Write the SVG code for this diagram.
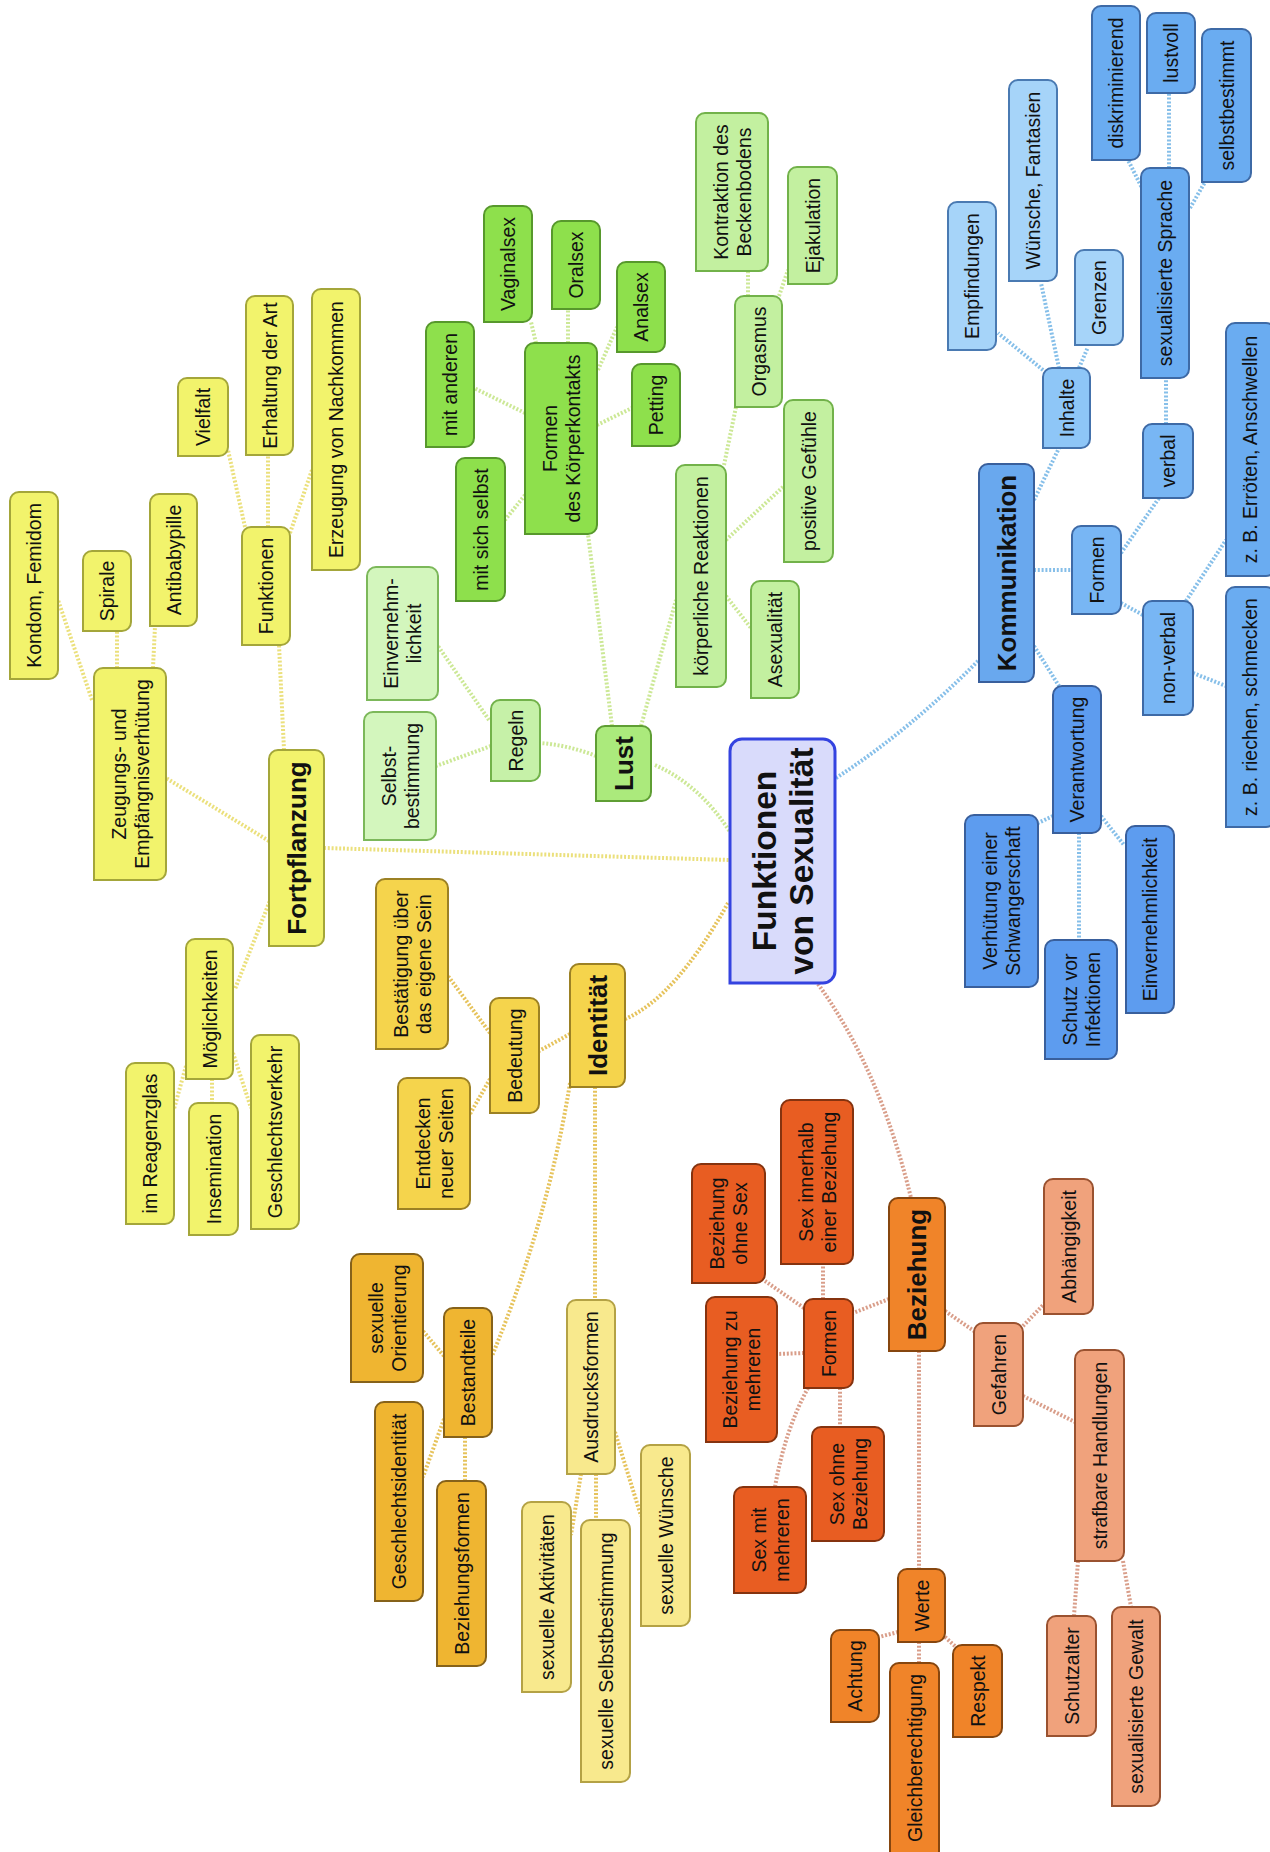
<svg xmlns="http://www.w3.org/2000/svg" width="1270" height="1852" viewBox="0 0 1270 1852">
<style>
.c{fill:none;stroke-width:4;stroke-dasharray:2 1.8}
.cy{stroke:#ebe07c}.cg{stroke:#cce896}.cgo{stroke:#e6c35c}.co{stroke:#d99e8a}.cb{stroke:#86bfe9}
.n{stroke-width:2}
.y{fill:#f2f36c;stroke:#a4a63a}
.g1{fill:#8ee04c;stroke:#57982c}
.g2{fill:#c3f0a0;stroke:#72b24a}
.g3{fill:#d3f6bd;stroke:#7cb85a}
.gl{fill:#abea7c;stroke:#5f9e34}
.gr{fill:#c6f1a8;stroke:#72b24a}
.go{fill:#f5d44c;stroke:#9c8124}
.dg{fill:#efb531;stroke:#86621a}
.py{fill:#f8e98d;stroke:#b4a245}
.rd{fill:#e85d22;stroke:#85330f}
.or{fill:#f08429;stroke:#86460f}
.sa{fill:#f0a27c;stroke:#9a5230}
.b1{fill:#69a8ee;stroke:#395f9c}
.b2{fill:#5d9cef;stroke:#395f9c}
.b3{fill:#78b6f4;stroke:#3e6aa6}
.b4{fill:#8ec6f7;stroke:#4472ac}
.b5{fill:#a6d4f9;stroke:#4a7ab2}
.b6{fill:#6aacf1;stroke:#3e6aa6}
.ctr{fill:#d9dbfb;stroke:#3443e0;stroke-width:3}
text{font-family:"Liberation Sans",Arial,sans-serif;font-size:19.5px;fill:#111;text-anchor:middle}
.tb{font-weight:bold;font-size:26px}
.tc{font-weight:bold;font-size:33.5px}
</style>
<g id="connectors">
<path class="c cg" d="M655,765Q700,785 730,832"/>
<path class="c cy" d="M324,848L730,860"/>
<path class="c cgo" d="M625,1019Q675,998 728,903"/>
<path class="c co" d="M818,984Q880,1070 911,1198"/>
<path class="c cb" d="M836,778Q910,730 979,660"/>
<path class="c cg" d="M596,756Q568,745 540,743"/>
<path class="c cg" d="M612,726L588,534"/>
<path class="c cg" d="M641,726L676,600"/>
<path class="c cg" d="M491,746L436,766"/>
<path class="c cg" d="M489,720L438,646"/>
<path class="c cg" d="M525,495L505,520"/>
<path class="c cg" d="M525,413L474,388"/>
<path class="c cg" d="M536,343L531,322"/>
<path class="c cg" d="M568,343L568,309"/>
<path class="c cg" d="M598,370L617,327"/>
<path class="c cg" d="M597,425L632,408"/>
<path class="c cg" d="M724,465L736,407"/>
<path class="c cg" d="M726,540L784,486"/>
<path class="c cg" d="M726,596L751,628"/>
<path class="c cg" d="M748,296L748,271"/>
<path class="c cg" d="M779,296L788,270"/>
<path class="c cy" d="M284,750L279,645"/>
<path class="c cy" d="M269,841L166,778"/>
<path class="c cy" d="M271,898L235,989"/>
<path class="c cy" d="M245,527L228,450"/>
<path class="c cy" d="M268,527L268,455"/>
<path class="c cy" d="M290,533L312,470"/>
<path class="c cy" d="M92,700L58,600"/>
<path class="c cy" d="M117,668L117,631"/>
<path class="c cy" d="M153,668L155,626"/>
<path class="c cy" d="M186,1066L174,1109"/>
<path class="c cy" d="M212,1079L212,1103"/>
<path class="c cy" d="M233,1053L251,1108"/>
<path class="c cgo" d="M570,1034L539,1051"/>
<path class="c cgo" d="M570,1083Q548,1220 492,1356"/>
<path class="c cgo" d="M595,1087L595,1300"/>
<path class="c cgo" d="M490,1033L448,976"/>
<path class="c cgo" d="M490,1079L470,1114"/>
<path class="c cgo" d="M444,1356L423,1331"/>
<path class="c cgo" d="M444,1419L423,1477"/>
<path class="c cgo" d="M465,1437L465,1481"/>
<path class="c cgo" d="M581,1474L571,1535"/>
<path class="c cgo" d="M596,1474L596,1520"/>
<path class="c cgo" d="M615,1432L641,1516"/>
<path class="c co" d="M889,1299L853,1313"/>
<path class="c co" d="M945,1311L974,1331"/>
<path class="c co" d="M919,1351L919,1569"/>
<path class="c co" d="M804,1308L765,1281"/>
<path class="c co" d="M823,1299L823,1264"/>
<path class="c co" d="M804,1353L777,1354"/>
<path class="c co" d="M808,1388Q785,1430 775,1487"/>
<path class="c co" d="M840,1388L840,1427"/>
<path class="c co" d="M898,1632L879,1637"/>
<path class="c co" d="M919,1642L919,1663"/>
<path class="c co" d="M945,1637L956,1647"/>
<path class="c co" d="M1023,1326L1044,1304"/>
<path class="c co" d="M1023,1396L1075,1422"/>
<path class="c co" d="M1078,1561L1074,1616"/>
<path class="c co" d="M1123,1561L1131,1607"/>
<path class="c cb" d="M1034,500L1059,448"/>
<path class="c cb" d="M1034,570L1072,570"/>
<path class="c cb" d="M1034,646L1059,686"/>
<path class="c cb" d="M1043,370L998,333"/>
<path class="c cb" d="M1059,368L1041,283"/>
<path class="c cb" d="M1079,368L1088,347"/>
<path class="c cb" d="M1121,553L1159,498"/>
<path class="c cb" d="M1121,603L1143,615"/>
<path class="c cb" d="M1166,424L1166,378"/>
<path class="c cb" d="M1143,190L1128,160"/>
<path class="c cb" d="M1169,168L1169,93"/>
<path class="c cb" d="M1190,208L1205,182"/>
<path class="c cb" d="M1186,601L1226,540"/>
<path class="c cb" d="M1193,673L1226,686"/>
<path class="c cb" d="M1053,816L1038,823"/>
<path class="c cb" d="M1079,833L1079,940"/>
<path class="c cb" d="M1101,816L1124,845"/>
</g>
<g id="center"><path class="ctr" d="M730,983V751a12,12 0 0 1 12,-12H823a12,12 0 0 1 12,12V971a12,12 0 0 1 -12,12Z"/><text class="tc" transform="translate(782.5,861) rotate(-90)"><tspan x="0" y="-7">Funktionen</tspan><tspan x="0" y="30">von Sexualität</tspan></text></g>
<g id="vielfalt"><path class="n y" d="M178,456V387a9,9 0 0 1 9,-9H219a9,9 0 0 1 9,9V447a9,9 0 0 1 -9,9Z"/><text transform="translate(203,417) rotate(-90)" y="7">Vielfalt</text></g>
<g id="erhaltung"><path class="n y" d="M246,455V305a9,9 0 0 1 9,-9H284a9,9 0 0 1 9,9V446a9,9 0 0 1 -9,9Z"/><text transform="translate(269.5,375.5) rotate(-90)" y="7">Erhaltung der Art</text></g>
<g id="erzeugung"><path class="n y" d="M312,570V298a9,9 0 0 1 9,-9H351a9,9 0 0 1 9,9V561a9,9 0 0 1 -9,9Z"/><text transform="translate(336,429.5) rotate(-90)" y="7">Erzeugung von Nachkommen</text></g>
<g id="funktionen"><path class="n y" d="M242,645V536a9,9 0 0 1 9,-9H281a9,9 0 0 1 9,9V636a9,9 0 0 1 -9,9Z"/><text transform="translate(266,586) rotate(-90)" y="7">Funktionen</text></g>
<g id="kondom"><path class="n y" d="M10,679V501a9,9 0 0 1 9,-9H49a9,9 0 0 1 9,9V670a9,9 0 0 1 -9,9Z"/><text transform="translate(34,585.5) rotate(-90)" y="7">Kondom, Femidom</text></g>
<g id="spirale"><path class="n y" d="M83,631V560a9,9 0 0 1 9,-9H122a9,9 0 0 1 9,9V622a9,9 0 0 1 -9,9Z"/><text transform="translate(107,591) rotate(-90)" y="7">Spirale</text></g>
<g id="antibabypille"><path class="n y" d="M150,626V503a9,9 0 0 1 9,-9H188a9,9 0 0 1 9,9V617a9,9 0 0 1 -9,9Z"/><text transform="translate(173.5,560) rotate(-90)" y="7">Antibabypille</text></g>
<g id="verhuetung-zeugung"><path class="n y" d="M94,880V677a9,9 0 0 1 9,-9H157a9,9 0 0 1 9,9V871a9,9 0 0 1 -9,9Z"/><text transform="translate(130,774) rotate(-90)"><tspan x="0" y="-4.5">Zeugungs- und</tspan><tspan x="0" y="18.5">Empfängnisverhütung</tspan></text></g>
<g id="fortpflanzung"><path class="n y" d="M269,946V759a9,9 0 0 1 9,-9H315a9,9 0 0 1 9,9V937a9,9 0 0 1 -9,9Z"/><text class="tb" transform="translate(296.5,848) rotate(-90)" y="9">Fortpflanzung</text></g>
<g id="moeglichkeiten"><path class="n y" d="M186,1079V948a9,9 0 0 1 9,-9H224a9,9 0 0 1 9,9V1070a9,9 0 0 1 -9,9Z"/><text transform="translate(209.5,1009) rotate(-90)" y="7">Möglichkeiten</text></g>
<g id="reagenzglas"><path class="n y" d="M126,1224V1072a9,9 0 0 1 9,-9H165a9,9 0 0 1 9,9V1215a9,9 0 0 1 -9,9Z"/><text transform="translate(150,1143.5) rotate(-90)" y="7">im Reagenzglas</text></g>
<g id="insemination"><path class="n y" d="M189,1235V1112a9,9 0 0 1 9,-9H229a9,9 0 0 1 9,9V1226a9,9 0 0 1 -9,9Z"/><text transform="translate(213.5,1169) rotate(-90)" y="7">Insemination</text></g>
<g id="geschlechtsverkehr"><path class="n y" d="M251,1229V1044a9,9 0 0 1 9,-9H290a9,9 0 0 1 9,9V1220a9,9 0 0 1 -9,9Z"/><text transform="translate(275,1132) rotate(-90)" y="7">Geschlechtsverkehr</text></g>
<g id="einvernehm-lust"><path class="n g3" d="M367,700V576a9,9 0 0 1 9,-9H429a9,9 0 0 1 9,9V691a9,9 0 0 1 -9,9Z"/><text transform="translate(402.5,633.5) rotate(-90)"><tspan x="0" y="-4.5">Einvernehm-</tspan><tspan x="0" y="18.5">lichkeit</tspan></text></g>
<g id="selbstbestimmung"><path class="n g3" d="M364,840V721a9,9 0 0 1 9,-9H427a9,9 0 0 1 9,9V831a9,9 0 0 1 -9,9Z"/><text transform="translate(400,776) rotate(-90)"><tspan x="0" y="-4.5">Selbst-</tspan><tspan x="0" y="18.5">bestimmung</tspan></text></g>
<g id="regeln"><path class="n gr" d="M491,781V709a9,9 0 0 1 9,-9H531a9,9 0 0 1 9,9V772a9,9 0 0 1 -9,9Z"/><text transform="translate(515.5,740.5) rotate(-90)" y="7">Regeln</text></g>
<g id="lust"><path class="n gl" d="M596,801V735a9,9 0 0 1 9,-9H642a9,9 0 0 1 9,9V792a9,9 0 0 1 -9,9Z"/><text class="tb" transform="translate(623.5,763.5) rotate(-90)" y="9">Lust</text></g>
<g id="mit-sich-selbst"><path class="n g1" d="M456,601V467a9,9 0 0 1 9,-9H496a9,9 0 0 1 9,9V592a9,9 0 0 1 -9,9Z"/><text transform="translate(480.5,529.5) rotate(-90)" y="7">mit sich selbst</text></g>
<g id="mit-anderen"><path class="n g1" d="M426,447V331a9,9 0 0 1 9,-9H465a9,9 0 0 1 9,9V438a9,9 0 0 1 -9,9Z"/><text transform="translate(450,384.5) rotate(-90)" y="7">mit anderen</text></g>
<g id="vaginalsex"><path class="n g1" d="M484,322V215a9,9 0 0 1 9,-9H523a9,9 0 0 1 9,9V313a9,9 0 0 1 -9,9Z"/><text transform="translate(508,264) rotate(-90)" y="7">Vaginalsex</text></g>
<g id="oralsex"><path class="n g1" d="M552,309V230a9,9 0 0 1 9,-9H591a9,9 0 0 1 9,9V300a9,9 0 0 1 -9,9Z"/><text transform="translate(576,265) rotate(-90)" y="7">Oralsex</text></g>
<g id="analsex"><path class="n g1" d="M617,352V271a9,9 0 0 1 9,-9H656a9,9 0 0 1 9,9V343a9,9 0 0 1 -9,9Z"/><text transform="translate(641,307) rotate(-90)" y="7">Analsex</text></g>
<g id="formen-koerperkontakt"><path class="n g1" d="M525,534V352a9,9 0 0 1 9,-9H588a9,9 0 0 1 9,9V525a9,9 0 0 1 -9,9Z"/><text transform="translate(561,438.5) rotate(-90)"><tspan x="0" y="-4.5">Formen</tspan><tspan x="0" y="18.5">des Körperkontakts</tspan></text></g>
<g id="petting"><path class="n g1" d="M632,446V373a9,9 0 0 1 9,-9H671a9,9 0 0 1 9,9V437a9,9 0 0 1 -9,9Z"/><text transform="translate(656,405) rotate(-90)" y="7">Petting</text></g>
<g id="kontraktion"><path class="n g2" d="M696,271V122a9,9 0 0 1 9,-9H759a9,9 0 0 1 9,9V262a9,9 0 0 1 -9,9Z"/><text transform="translate(732,192) rotate(-90)"><tspan x="0" y="-4.5">Kontraktion des</tspan><tspan x="0" y="18.5">Beckenbodens</tspan></text></g>
<g id="orgasmus"><path class="n g2" d="M735,407V305a9,9 0 0 1 9,-9H773a9,9 0 0 1 9,9V398a9,9 0 0 1 -9,9Z"/><text transform="translate(758.5,351.5) rotate(-90)" y="7">Orgasmus</text></g>
<g id="ejakulation"><path class="n g2" d="M788,284V176a9,9 0 0 1 9,-9H828a9,9 0 0 1 9,9V275a9,9 0 0 1 -9,9Z"/><text transform="translate(812.5,225.5) rotate(-90)" y="7">Ejakulation</text></g>
<g id="positive-gefuehle"><path class="n g2" d="M784,562V409a9,9 0 0 1 9,-9H824a9,9 0 0 1 9,9V553a9,9 0 0 1 -9,9Z"/><text transform="translate(808.5,481) rotate(-90)" y="7">positive Gefühle</text></g>
<g id="koerperliche-reaktionen"><path class="n g2" d="M676,687V474a9,9 0 0 1 9,-9H717a9,9 0 0 1 9,9V678a9,9 0 0 1 -9,9Z"/><text transform="translate(701,576) rotate(-90)" y="7">körperliche Reaktionen</text></g>
<g id="asexualitaet"><path class="n g2" d="M751,698V590a9,9 0 0 1 9,-9H790a9,9 0 0 1 9,9V689a9,9 0 0 1 -9,9Z"/><text transform="translate(775,639.5) rotate(-90)" y="7">Asexualität</text></g>
<g id="bestaetigung"><path class="n go" d="M376,1049V888a9,9 0 0 1 9,-9H439a9,9 0 0 1 9,9V1040a9,9 0 0 1 -9,9Z"/><text transform="translate(412,964) rotate(-90)"><tspan x="0" y="-4.5">Bestätigung über</tspan><tspan x="0" y="18.5">das eigene Sein</tspan></text></g>
<g id="entdecken"><path class="n go" d="M398,1209V1087a9,9 0 0 1 9,-9H461a9,9 0 0 1 9,9V1200a9,9 0 0 1 -9,9Z"/><text transform="translate(434,1143.5) rotate(-90)"><tspan x="0" y="-4.5">Entdecken</tspan><tspan x="0" y="18.5">neuer Seiten</tspan></text></g>
<g id="bedeutung"><path class="n go" d="M490,1113V1007a9,9 0 0 1 9,-9H530a9,9 0 0 1 9,9V1104a9,9 0 0 1 -9,9Z"/><text transform="translate(514.5,1055.5) rotate(-90)" y="7">Bedeutung</text></g>
<g id="identitaet"><path class="n go" d="M570,1087V973a9,9 0 0 1 9,-9H616a9,9 0 0 1 9,9V1078a9,9 0 0 1 -9,9Z"/><text class="tb" transform="translate(597.5,1025.5) rotate(-90)" y="9">Identität</text></g>
<g id="orientierung"><path class="n dg" d="M351,1382V1263a9,9 0 0 1 9,-9H414a9,9 0 0 1 9,9V1373a9,9 0 0 1 -9,9Z"/><text transform="translate(387,1318) rotate(-90)"><tspan x="0" y="-4.5">sexuelle</tspan><tspan x="0" y="18.5">Orientierung</tspan></text></g>
<g id="geschlechtsidentitaet"><path class="n dg" d="M375,1601V1411a9,9 0 0 1 9,-9H414a9,9 0 0 1 9,9V1592a9,9 0 0 1 -9,9Z"/><text transform="translate(399,1501.5) rotate(-90)" y="7">Geschlechtsidentität</text></g>
<g id="bestandteile"><path class="n dg" d="M444,1437V1317a9,9 0 0 1 9,-9H483a9,9 0 0 1 9,9V1428a9,9 0 0 1 -9,9Z"/><text transform="translate(468,1372.5) rotate(-90)" y="7">Bestandteile</text></g>
<g id="beziehungsformen"><path class="n dg" d="M437,1666V1490a9,9 0 0 1 9,-9H477a9,9 0 0 1 9,9V1657a9,9 0 0 1 -9,9Z"/><text transform="translate(461.5,1573.5) rotate(-90)" y="7">Beziehungsformen</text></g>
<g id="ausdrucksformen"><path class="n py" d="M567,1474V1309a9,9 0 0 1 9,-9H606a9,9 0 0 1 9,9V1465a9,9 0 0 1 -9,9Z"/><text transform="translate(591,1387) rotate(-90)" y="7">Ausdrucksformen</text></g>
<g id="aktivitaeten"><path class="n py" d="M522,1692V1511a9,9 0 0 1 9,-9H562a9,9 0 0 1 9,9V1683a9,9 0 0 1 -9,9Z"/><text transform="translate(546.5,1597) rotate(-90)" y="7">sexuelle Aktivitäten</text></g>
<g id="sex-selbstbestimmung"><path class="n py" d="M581,1782V1529a9,9 0 0 1 9,-9H621a9,9 0 0 1 9,9V1773a9,9 0 0 1 -9,9Z"/><text transform="translate(605.5,1651) rotate(-90)" y="7">sexuelle Selbstbestimmung</text></g>
<g id="sex-wuensche"><path class="n py" d="M641,1626V1454a9,9 0 0 1 9,-9H681a9,9 0 0 1 9,9V1617a9,9 0 0 1 -9,9Z"/><text transform="translate(665.5,1535.5) rotate(-90)" y="7">sexuelle Wünsche</text></g>
<g id="beziehung-ohne-sex"><path class="n rd" d="M692,1283V1173a9,9 0 0 1 9,-9H756a9,9 0 0 1 9,9V1274a9,9 0 0 1 -9,9Z"/><text transform="translate(728.5,1223.5) rotate(-90)"><tspan x="0" y="-4.5">Beziehung</tspan><tspan x="0" y="18.5">ohne Sex</tspan></text></g>
<g id="sex-innerhalb"><path class="n rd" d="M781,1264V1109a9,9 0 0 1 9,-9H844a9,9 0 0 1 9,9V1255a9,9 0 0 1 -9,9Z"/><text transform="translate(817,1182) rotate(-90)"><tspan x="0" y="-4.5">Sex innerhalb</tspan><tspan x="0" y="18.5">einer Beziehung</tspan></text></g>
<g id="beziehung-mehreren"><path class="n rd" d="M706,1442V1306a9,9 0 0 1 9,-9H768a9,9 0 0 1 9,9V1433a9,9 0 0 1 -9,9Z"/><text transform="translate(741.5,1369.5) rotate(-90)"><tspan x="0" y="-4.5">Beziehung zu</tspan><tspan x="0" y="18.5">mehreren</tspan></text></g>
<g id="formen-beziehung"><path class="n rd" d="M804,1388V1308a9,9 0 0 1 9,-9H844a9,9 0 0 1 9,9V1379a9,9 0 0 1 -9,9Z"/><text transform="translate(828.5,1343.5) rotate(-90)" y="7">Formen</text></g>
<g id="sex-mit-mehreren"><path class="n rd" d="M734,1593V1496a9,9 0 0 1 9,-9H797a9,9 0 0 1 9,9V1584a9,9 0 0 1 -9,9Z"/><text transform="translate(770,1540) rotate(-90)"><tspan x="0" y="-4.5">Sex mit</tspan><tspan x="0" y="18.5">mehreren</tspan></text></g>
<g id="sex-ohne-beziehung"><path class="n rd" d="M812,1541V1436a9,9 0 0 1 9,-9H875a9,9 0 0 1 9,9V1532a9,9 0 0 1 -9,9Z"/><text transform="translate(848,1484) rotate(-90)"><tspan x="0" y="-4.5">Sex ohne</tspan><tspan x="0" y="18.5">Beziehung</tspan></text></g>
<g id="beziehung"><path class="n or" d="M889,1351V1207a9,9 0 0 1 9,-9H936a9,9 0 0 1 9,9V1342a9,9 0 0 1 -9,9Z"/><text class="tb" transform="translate(917,1274.5) rotate(-90)" y="9">Beziehung</text></g>
<g id="werte"><path class="n or" d="M898,1642V1578a9,9 0 0 1 9,-9H936a9,9 0 0 1 9,9V1633a9,9 0 0 1 -9,9Z"/><text transform="translate(921.5,1605.5) rotate(-90)" y="7">Werte</text></g>
<g id="achtung"><path class="n or" d="M831,1722V1639a9,9 0 0 1 9,-9H870a9,9 0 0 1 9,9V1713a9,9 0 0 1 -9,9Z"/><text transform="translate(855,1676) rotate(-90)" y="7">Achtung</text></g>
<g id="gleichberechtigung"><path class="n or" d="M890,1870V1672a9,9 0 0 1 9,-9H930a9,9 0 0 1 9,9V1861a9,9 0 0 1 -9,9Z"/><text transform="translate(914.5,1758) rotate(-90)" y="7">Gleichberechtigung</text></g>
<g id="respekt"><path class="n or" d="M953,1737V1654a9,9 0 0 1 9,-9H993a9,9 0 0 1 9,9V1728a9,9 0 0 1 -9,9Z"/><text transform="translate(977.5,1691) rotate(-90)" y="7">Respekt</text></g>
<g id="gefahren"><path class="n sa" d="M974,1426V1332a9,9 0 0 1 9,-9H1014a9,9 0 0 1 9,9V1417a9,9 0 0 1 -9,9Z"/><text transform="translate(998.5,1374.5) rotate(-90)" y="7">Gefahren</text></g>
<g id="abhaengigkeit"><path class="n sa" d="M1044,1314V1188a9,9 0 0 1 9,-9H1084a9,9 0 0 1 9,9V1305a9,9 0 0 1 -9,9Z"/><text transform="translate(1068.5,1246.5) rotate(-90)" y="7">Abhängigkeit</text></g>
<g id="strafbare-handlungen"><path class="n sa" d="M1075,1561V1359a9,9 0 0 1 9,-9H1115a9,9 0 0 1 9,9V1552a9,9 0 0 1 -9,9Z"/><text transform="translate(1099.5,1455.5) rotate(-90)" y="7">strafbare Handlungen</text></g>
<g id="schutzalter"><path class="n sa" d="M1047,1736V1625a9,9 0 0 1 9,-9H1087a9,9 0 0 1 9,9V1727a9,9 0 0 1 -9,9Z"/><text transform="translate(1071.5,1676) rotate(-90)" y="7">Schutzalter</text></g>
<g id="sexualisierte-gewalt"><path class="n sa" d="M1112,1806V1616a9,9 0 0 1 9,-9H1151a9,9 0 0 1 9,9V1797a9,9 0 0 1 -9,9Z"/><text transform="translate(1136,1706.5) rotate(-90)" y="7">sexualisierte Gewalt</text></g>
<g id="kommunikation"><path class="n b1" d="M979,682V473a9,9 0 0 1 9,-9H1025a9,9 0 0 1 9,9V673a9,9 0 0 1 -9,9Z"/><text class="tb" transform="translate(1006.5,573) rotate(-90)" y="9">Kommunikation</text></g>
<g id="verantwortung"><path class="n b2" d="M1053,833V695a9,9 0 0 1 9,-9H1092a9,9 0 0 1 9,9V824a9,9 0 0 1 -9,9Z"/><text transform="translate(1077,759.5) rotate(-90)" y="7">Verantwortung</text></g>
<g id="verhuetung-schwangerschaft"><path class="n b2" d="M965,987V824a9,9 0 0 1 9,-9H1029a9,9 0 0 1 9,9V978a9,9 0 0 1 -9,9Z"/><text transform="translate(1001.5,901) rotate(-90)"><tspan x="0" y="-4.5">Verhütung einer</tspan><tspan x="0" y="18.5">Schwangerschaft</tspan></text></g>
<g id="schutz-infektionen"><path class="n b2" d="M1045,1059V949a9,9 0 0 1 9,-9H1108a9,9 0 0 1 9,9V1050a9,9 0 0 1 -9,9Z"/><text transform="translate(1081,999.5) rotate(-90)"><tspan x="0" y="-4.5">Schutz vor</tspan><tspan x="0" y="18.5">Infektionen</tspan></text></g>
<g id="einvernehmlichkeit-komm"><path class="n b2" d="M1126,1013V835a9,9 0 0 1 9,-9H1165a9,9 0 0 1 9,9V1004a9,9 0 0 1 -9,9Z"/><text transform="translate(1150,919.5) rotate(-90)" y="7">Einvernehmlichkeit</text></g>
<g id="formen-komm"><path class="n b3" d="M1072,614V535a9,9 0 0 1 9,-9H1112a9,9 0 0 1 9,9V605a9,9 0 0 1 -9,9Z"/><text transform="translate(1096.5,570) rotate(-90)" y="7">Formen</text></g>
<g id="non-verbal"><path class="n b3" d="M1143,715V610a9,9 0 0 1 9,-9H1184a9,9 0 0 1 9,9V706a9,9 0 0 1 -9,9Z"/><text transform="translate(1168,658) rotate(-90)" y="7">non-verbal</text></g>
<g id="verbal"><path class="n b3" d="M1143,498V433a9,9 0 0 1 9,-9H1184a9,9 0 0 1 9,9V489a9,9 0 0 1 -9,9Z"/><text transform="translate(1168,461) rotate(-90)" y="7">verbal</text></g>
<g id="riechen"><path class="n b6" d="M1226,827V596a9,9 0 0 1 9,-9H1266a9,9 0 0 1 9,9V818a9,9 0 0 1 -9,9Z"/><text transform="translate(1250,707) rotate(-90)" y="7">z. B. riechen, schmecken</text></g>
<g id="erroeten"><path class="n b6" d="M1226,576V332a9,9 0 0 1 9,-9H1266a9,9 0 0 1 9,9V567a9,9 0 0 1 -9,9Z"/><text transform="translate(1250,449.5) rotate(-90)" y="7">z. B. Erröten, Anschwellen</text></g>
<g id="inhalte"><path class="n b4" d="M1043,448V377a9,9 0 0 1 9,-9H1081a9,9 0 0 1 9,9V439a9,9 0 0 1 -9,9Z"/><text transform="translate(1066.5,408) rotate(-90)" y="7">Inhalte</text></g>
<g id="empfindungen"><path class="n b5" d="M948,350V211a9,9 0 0 1 9,-9H987a9,9 0 0 1 9,9V341a9,9 0 0 1 -9,9Z"/><text transform="translate(972,276) rotate(-90)" y="7">Empfindungen</text></g>
<g id="wuensche-fantasien"><path class="n b5" d="M1009,281V89a9,9 0 0 1 9,-9H1048a9,9 0 0 1 9,9V272a9,9 0 0 1 -9,9Z"/><text transform="translate(1033,180.5) rotate(-90)" y="7">Wünsche, Fantasien</text></g>
<g id="grenzen"><path class="n b5" d="M1075,345V259a9,9 0 0 1 9,-9H1114a9,9 0 0 1 9,9V336a9,9 0 0 1 -9,9Z"/><text transform="translate(1099,297.5) rotate(-90)" y="7">Grenzen</text></g>
<g id="sexualisierte-sprache"><path class="n b6" d="M1141,378V177a9,9 0 0 1 9,-9H1180a9,9 0 0 1 9,9V369a9,9 0 0 1 -9,9Z"/><text transform="translate(1165,273) rotate(-90)" y="7">sexualisierte Sprache</text></g>
<g id="diskriminierend"><path class="n b6" d="M1092,160V15a9,9 0 0 1 9,-9H1131a9,9 0 0 1 9,9V151a9,9 0 0 1 -9,9Z"/><text transform="translate(1116,83) rotate(-90)" y="7">diskriminierend</text></g>
<g id="lustvoll"><path class="n b6" d="M1147,93V22a9,9 0 0 1 9,-9H1186a9,9 0 0 1 9,9V84a9,9 0 0 1 -9,9Z"/><text transform="translate(1171,53) rotate(-90)" y="7">lustvoll</text></g>
<g id="selbstbestimmt"><path class="n b6" d="M1202,182V38a9,9 0 0 1 9,-9H1242a9,9 0 0 1 9,9V173a9,9 0 0 1 -9,9Z"/><text transform="translate(1226.5,105.5) rotate(-90)" y="7">selbstbestimmt</text></g>
</svg>
